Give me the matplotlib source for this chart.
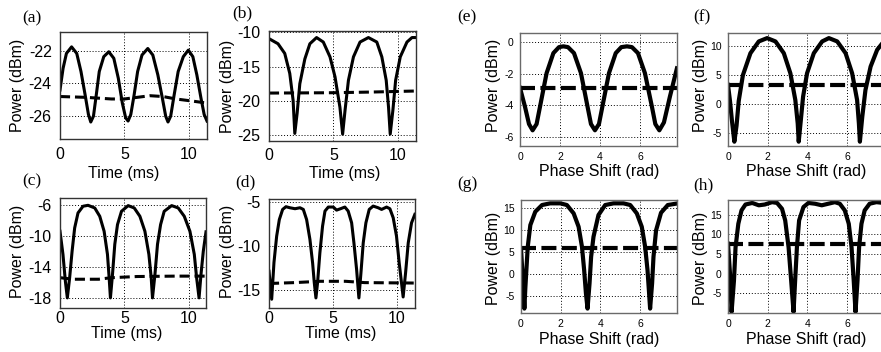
import matplotlib

matplotlib.use("Agg")
import matplotlib.pyplot as plt

plt.rcParams["axes.unicode_minus"] = False

# ---- data (time domain, panels a-d) ----
a_time = [0, 0.24, 0.5, 0.9, 1.3, 1.63, 1.95, 2.21, 2.39, 2.6, 2.82, 3.05, 3.4, 3.79, 4.18,
          4.53, 4.84, 5.1, 5.29, 5.5, 5.76, 6.03, 6.37, 6.82, 7.21, 7.6, 7.95, 8.21, 8.39,
          8.6, 8.87, 9.18, 9.58, 9.97, 10.32, 10.63, 10.95, 11.2, 11.42]
a_power = [-24.4, -23.07, -22.16, -21.76, -22.16, -23.27, -24.69, -25.9, -26.36, -26.0,
           -24.69, -23.27, -22.36, -22.06, -22.46, -23.68, -25.19, -26.1, -26.3, -25.9,
           -24.69, -23.27, -22.26, -21.86, -22.26, -23.47, -24.89, -26.0, -26.36, -26.0,
           -24.69, -23.27, -22.36, -21.96, -22.36, -23.47, -24.89, -25.9, -26.3]
a_dash_time = [0, 2, 4, 5, 6, 7, 8, 9, 10, 11.42]
a_dash_power = [-24.8, -24.85, -24.95, -24.95, -24.85, -24.75, -24.8, -24.95, -25.05, -25.2]

b_time = [0, 0.7, 1.22, 1.61, 1.87, 2.0, 2.18, 2.39, 2.78, 3.17, 3.69, 4.21, 4.73, 5.12,
          5.5, 5.71, 5.9, 6.16, 6.55, 7.06, 7.71, 8.36, 8.75, 9.09, 9.27, 9.4, 9.61, 9.82,
          10.18, 10.7, 11.09, 11.4]
b_power = [-10.96, -11.7, -13.1, -16.0, -19.9, -24.7, -21.8, -17.5, -13.9, -11.7, -10.8,
           -11.45, -13.6, -16.5, -20.9, -24.8, -21.3, -17.0, -13.6, -11.45, -10.8, -11.45,
           -13.6, -17.0, -20.9, -24.8, -21.3, -17.0, -13.6, -11.45, -10.8, -10.8]
b_dash_time = [0, 5, 8, 11.4]
b_dash_power = [-18.85, -18.8, -18.7, -18.55]

c_time = [0, 0.23, 0.42, 0.57, 0.75, 0.94, 1.14, 1.4, 1.79, 2.18, 2.7, 3.09, 3.43, 3.69,
          3.82, 3.92, 4.08, 4.26, 4.47, 4.78, 5.3, 5.77, 6.21, 6.6, 6.91, 7.09, 7.19, 7.38,
          7.58, 7.82, 8.1, 8.68, 9.19, 9.66, 10.1, 10.44, 10.62, 10.81, 10.96, 11.14, 11.35]
c_power = [-9.43, -12.4, -15.9, -18.0, -15.4, -12.0, -9.0, -7.07, -6.21, -6.09, -6.43, -7.5,
           -9.43, -12.4, -15.4, -18.0, -15.0, -11.1, -8.57, -6.86, -6.13, -6.43, -7.5, -9.43,
           -12.4, -15.4, -18.0, -15.0, -11.1, -8.57, -6.86, -6.13, -6.43, -7.5, -9.43, -12.4,
           -15.4, -18.0, -15.0, -12.0, -9.5]
c_dash_time = [0, 1, 3, 4, 6, 9, 11.35]
c_dash_power = [-15.4, -15.6, -15.6, -15.4, -15.25, -15.2, -15.2]

d_time = [0, 0.21, 0.39, 0.6, 0.81, 1.07, 1.33, 1.64, 2.04, 2.43, 2.69, 2.95, 3.21, 3.42,
          3.55, 3.68, 3.81, 3.99, 4.2, 4.39, 4.65, 5.04, 5.3, 5.61, 5.95, 6.21, 6.48, 6.66,
          6.87, 7.05, 7.21, 7.39, 7.6, 7.86, 8.17, 8.56, 8.83, 9.22, 9.48, 9.74, 10.0, 10.21,
          10.39, 10.52, 10.71, 10.92, 11.18, 11.44]
d_power = [-12.9, -16.1, -11.9, -8.9, -7.0, -5.84, -5.53, -5.65, -5.76, -5.65, -5.84, -7.0,
           -9.27, -11.95, -14.2, -15.95, -14.2, -10.8, -7.75, -6.03, -5.57, -5.57, -5.92,
           -5.76, -5.57, -6.03, -7.37, -9.66, -12.7, -15.95, -13.1, -9.66, -7.37, -5.84,
           -5.46, -5.65, -5.84, -5.57, -5.76, -6.79, -8.9, -11.95, -14.2, -15.84, -13.1,
           -9.66, -7.37, -6.4]
d_dash_time = [0, 2, 4, 6, 7.5, 11.44]
d_dash_power = [-14.3, -14.2, -14.05, -14.05, -14.2, -14.25]

# ---- phase sweeps (panels e-h) ----
e_phase = [0, 0.25, 0.45, 0.63, 0.83, 1.0, 1.33, 1.67, 1.95, 2.17, 2.4, 2.7, 3.05, 3.38,
           3.55, 3.75, 3.95, 4.12, 4.45, 4.79, 5.07, 5.35, 5.6, 5.9, 6.25, 6.6, 6.77, 6.97,
           7.2, 7.5, 7.85]
e_power = [-2.9, -4.1, -5.2, -5.6, -5.2, -4.1, -1.96, -0.68, -0.3, -0.25, -0.3, -0.68,
           -1.96, -4.1, -5.2, -5.6, -5.2, -4.1, -1.96, -0.68, -0.3, -0.25, -0.3, -0.68,
           -1.96, -4.1, -5.2, -5.6, -5.1, -3.45, -1.65]
e_dash_phase = [0, 7.85]
e_dash_power = [-2.9, -2.9]

f_phase = [0, 0.1, 0.2, 0.32, 0.43, 0.54, 0.75, 1.13, 1.55, 1.97, 2.39, 2.81, 3.14, 3.39,
           3.51, 3.56, 3.65, 3.78, 3.98, 4.32, 4.74, 5.08, 5.5, 5.92, 6.25, 6.5, 6.59, 6.64,
           6.76, 6.92, 7.18, 7.51, 7.85]
f_power = [3.3, 0.5, -3.0, -6.6, -3.8, 0.5, 5.0, 8.83, 10.88, 11.46, 10.88, 8.83, 5.33,
           0.66, -3.43, -6.6, -3.43, 1.24, 5.33, 8.83, 10.88, 11.46, 10.88, 8.83, 5.33, 0.66,
           -3.43, -6.6, -2.26, 2.41, 6.5, 9.42, 10.9]
f_dash_phase = [0, 7.85]
f_dash_power = [3.3, 3.3]

g_phase = [0, 0.1, 0.17, 0.22, 0.27, 0.34, 0.47, 0.72, 1.06, 1.47, 1.98, 2.31, 2.65, 2.9,
           3.07, 3.18, 3.27, 3.35, 3.45, 3.53, 3.65, 3.9, 4.24, 4.66, 5.16, 5.5, 5.83, 6.08,
           6.25, 6.37, 6.45, 6.5, 6.6, 6.67, 6.8, 7.05, 7.39, 7.85]
g_power = [5.9, -2.0, -7.8, -3.0, 0.93, 6.25, 11.2, 14.24, 15.76, 16.14, 16.14, 15.76,
           13.86, 10.82, 6.25, 0.93, -4.4, -7.8, -2.1, 3.97, 8.54, 13.48, 15.76, 16.14,
           16.14, 15.76, 13.86, 10.82, 6.25, 0.93, -4.4, -7.8, -2.1, 3.97, 10.0, 14.0,
           15.76, 16.1]
g_dash_phase = [0, 7.85]
g_dash_power = [5.9, 5.9]

h_phase = [0, 0.1, 0.18, 0.3, 0.38, 0.52, 0.68, 0.88, 1.22, 1.55, 1.85, 2.22, 2.47, 2.72,
           2.88, 3.05, 3.18, 3.3, 3.38, 3.47, 3.58, 3.8, 4.05, 4.38, 4.72, 5.05, 5.38, 5.63,
           5.88, 6.08, 6.22, 6.33, 6.42, 6.52, 6.6, 6.72, 6.88, 7.13, 7.47, 7.85]
h_power = [7.6, 0.0, -9.8, -1.8, 6.7, 12.7, 16.1, 17.6, 18.0, 17.4, 17.6, 18.2, 18.0, 16.5,
           13.55, 6.7, -1.8, -9.8, -1.8, 6.7, 13.55, 16.96, 18.0, 17.8, 17.4, 17.8, 18.2,
           17.8, 16.1, 12.7, 6.7, -1.8, -9.8, -1.8, 6.7, 12.7, 16.1, 17.8, 18.2, 18.0]
h_dash_phase = [0, 7.85]
h_dash_power = [7.6, 7.6]

W, H = 881, 352


def fx(px):
    return px / W


def fy(py):
    return 1 - py / H


def add_axes(fig, left, top, right, bottom):
    return fig.add_axes([fx(left), fy(bottom), fx(right - left), (bottom - top) / H])


panels = [
    # letter, box (l, t, r, b) px, x, y, dashed x, dashed y, xlim, ylim, yticks, xticks,
    # letter pos, ylabel (right edge, centre y), xlabel (centre x, top), x tick pad, phase panel?
    ("(a)", (60, 32, 207, 139), a_time, a_power, a_dash_time, a_dash_power,
     (0, 11.42), (-27.4, -20.85), [-26, -24, -22], [0, 5, 10], (22, 18), (25, 85), (124, 166), 6, False),
    ("(b)", (269, 31, 416, 141), b_time, b_power, b_dash_time, b_dash_power,
     (0, 11.4), (-25.8, -9.85), [-25, -20, -15, -10], [0, 5, 10], (232, 13), (235, 86), (345, 166), 5, False),
    ("(c)", (60, 198, 206, 308), c_time, c_power, c_dash_time, c_dash_power,
     (0, 11.35), (-19.3, -5.15), [-18, -14, -10, -6], [0, 5, 10], (22, 181), (25, 251), (127, 326), 2, False),
    ("(d)", (269, 199, 415, 308), d_time, d_power, d_dash_time, d_dash_power,
     (0, 11.45), (-17.1, -4.65), [-15, -10, -5], [0, 5, 10], (235, 182), (235, 251), (341, 326), 2, False),
    ("(e)", (520, 33, 677, 146), e_phase, e_power, e_dash_phase, e_dash_power,
     (0, 7.854), (-6.6, 0.6), [-6, -4, -2, 0], [0, 2, 4, 6], (457, 17), (501, 85), (599, 164), 4.5, True),
    ("(f)", (728, 33, 884, 146), f_phase, f_power, f_dash_phase, f_dash_power,
     (0, 7.854), (-7.35, 12.35), [-5, 0, 5, 10], [0, 2, 4, 6], (693, 17), (708, 85), (806, 164), 4.5, True),
    ("(g)", (521, 200, 677, 313), g_phase, g_power, g_dash_phase, g_dash_power,
     (0, 7.854), (-8.8, 16.9), [-5, 0, 5, 10, 15], [0, 2, 4, 6], (457, 184), (501, 258), (599, 332), 4.5, True),
    ("(h)", (728, 200, 884, 313), h_phase, h_power, h_dash_phase, h_dash_power,
     (0, 7.854), (-10.05, 18.75), [-5, 0, 5, 10, 15], [0, 2, 4, 6], (693, 185), (708, 258), (806, 332), 4.5, True),
]

fig = plt.figure(figsize=(W / 100, H / 100), dpi=100)
sans = "Liberation Sans"

for (letter, box, x, y, xd, yd, xlim, ylim, yticks, xticks,
     letter_pos, ylab_pos, xlab_pos, xpad, phase_panel) in panels:
    ax = add_axes(fig, *box)
    lw = 3.0 if phase_panel else 2.2
    ax.plot(x, y, color="k", lw=lw, solid_joinstyle="round")
    dash = (0, (3.6, 1.3)) if phase_panel else (0, (3.3, 1.6))
    ax.plot(xd, yd, color="k", lw=lw, linestyle=dash)
    ax.set_xlim(*xlim)
    ax.set_ylim(*ylim)
    ax.set_xticks(xticks)
    ax.set_yticks(yticks)
    ax.grid(True, color="k", linestyle=(0, (1, 2)), lw=0.7)
    frame_color = "#6a6a6a" if phase_panel else "#333333"
    for s in ax.spines.values():
        s.set_color(frame_color)
        s.set_linewidth(1.0)
    if phase_panel:
        ax.tick_params(length=0, labelsize=7.5, pad=4.5)
    else:
        ax.tick_params(axis="y", length=0, labelsize=11.5, pad=6)
        ax.tick_params(axis="x", length=0, labelsize=11.5, pad=xpad)
    for lab in ax.get_xticklabels() + ax.get_yticklabels():
        lab.set_family(sans)

    # y label is anchored at its right edge, x label at its top
    ax.set_ylabel("Power (dBm)", fontsize=11.5, family=sans)
    ax.yaxis.set_label_coords(fx(ylab_pos[0]), fy(ylab_pos[1]), transform=fig.transFigure)
    xlabel = "Phase Shift (rad)" if phase_panel else "Time (ms)"
    ax.set_xlabel(xlabel, fontsize=11.5, family=sans)
    ax.xaxis.set_label_coords(fx(xlab_pos[0]), fy(xlab_pos[1]), transform=fig.transFigure)

    fig.text(fx(letter_pos[0]), fy(letter_pos[1]), letter, family="Liberation Serif",
             fontsize=12.5, ha="left", va="center")

fig.savefig("out.png", dpi=100)
